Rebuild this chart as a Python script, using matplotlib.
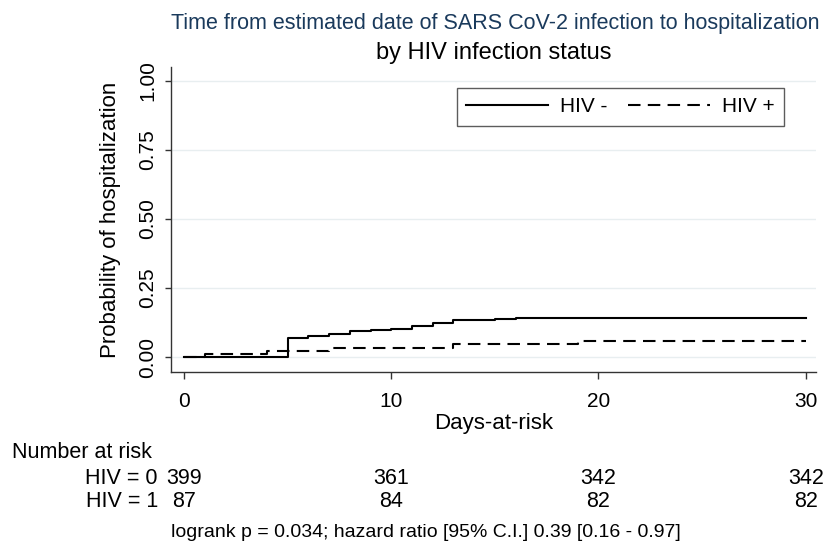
import matplotlib
matplotlib.use("Agg")
import matplotlib.pyplot as plt
from matplotlib.transforms import blended_transform_factory

plt.rcParams["font.family"] = ["Liberation Sans", "DejaVu Sans"]

# Kaplan-Meier failure curves (step changes at event days)
neg_days = [0, 5, 6, 7, 8, 9, 10, 11, 12, 13, 15, 16, 30]
neg_prob = [0.0, 0.070, 0.075, 0.085, 0.093, 0.098, 0.103, 0.113, 0.123, 0.133, 0.138, 0.143, 0.143]
pos_days = [0, 1, 4, 7, 13, 19, 30]
pos_prob = [0.0, 0.0115, 0.023, 0.0345, 0.046, 0.0575, 0.0575]

risk_days = [0, 10, 20, 30]
risk_neg = [399, 361, 342, 342]
risk_pos = [87, 84, 82, 82]

x_ticks = [0, 10, 20, 30]
y_ticks = [0.0, 0.25, 0.5, 0.75, 1.0]

fig = plt.figure(figsize=(8.26, 5.48), dpi=100)
fig.patch.set_facecolor("white")
ax = fig.add_axes([0.207, 0.321, 0.781, 0.557])

for y in y_ticks:
    ax.axhline(y, color="#e8eef0", linewidth=1.0, zorder=0)

ax.step(neg_days, neg_prob, where="post", color="black", linewidth=1.5, label="HIV -")
ax.step(pos_days, pos_prob, where="post", color="black", linewidth=1.5,
        linestyle=(0, (6, 3.5)), label="HIV +")

ax.set_xlim(-0.63, 30.5)
ax.set_ylim(-0.054, 1.051)
ax.set_xticks(x_ticks)
ax.set_yticks(y_ticks)
ax.set_yticklabels([f"{v:.2f}" for v in y_ticks], rotation=90, va="center")
ax.tick_params(axis="x", labelsize=15, length=5, width=1, color="#333333", pad=9)
ax.tick_params(axis="y", labelsize=15, length=4, width=1, color="#333333", pad=6)
for s in ["top", "right"]:
    ax.spines[s].set_visible(False)
for s in ["left", "bottom"]:
    ax.spines[s].set_color("#333333")
    ax.spines[s].set_linewidth(1)

ax.set_xlabel("Days-at-risk", fontsize=16, labelpad=2)
ax.set_ylabel("Probability of hospitalization", fontsize=16)
ax.yaxis.set_label_coords(-0.078, 0.5)

fig.text(0.599, 0.958, "Time from estimated date of SARS CoV-2 infection to hospitalization",
         ha="center", va="center", fontsize=15.5, color="#1a3a5c")
fig.text(0.598, 0.903, "by HIV infection status", ha="center", va="center", fontsize=17)

leg = ax.legend(loc="upper right", bbox_to_anchor=(784 / 826, 1 - 88 / 548),
                bbox_transform=fig.transFigure, borderaxespad=0,
                ncol=2, fontsize=15, frameon=True, fancybox=False, handlelength=3.9,
                columnspacing=1.0, borderpad=0.45, handletextpad=0.6)
leg.get_frame().set_edgecolor("#333333")
leg.get_frame().set_linewidth(1)

# number at risk table
tr = blended_transform_factory(ax.transData, fig.transFigure)
fig.text(0.015, 0.175, "Number at risk", fontsize=15.5, va="center")
fig.text(0.191, 0.127, "HIV = 0", fontsize=15.5, va="center", ha="right")
fig.text(0.191, 0.084, "HIV = 1", fontsize=15.5, va="center", ha="right")
for d, n0, n1 in zip(risk_days, risk_neg, risk_pos):
    ax.text(d, 0.127, str(n0), transform=tr, fontsize=15.5, ha="center", va="center")
    ax.text(d, 0.084, str(n1), transform=tr, fontsize=15.5, ha="center", va="center")

fig.text(0.516, 0.029, "logrank p = 0.034; hazard ratio [95% C.I.] 0.39 [0.16 - 0.97]",
         fontsize=14, ha="center", va="center")

fig.savefig("out.png", dpi=100, facecolor="white")
